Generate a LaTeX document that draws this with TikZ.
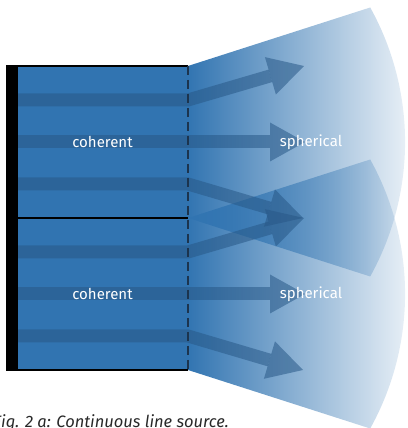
\documentclass[tikz,border=0pt]{standalone}
\usepackage{fontspec}
\setmainfont{Fira Sans}
\usetikzlibrary{calc,fadings}

\definecolor{boxblue}{RGB}{49,116,177}
\definecolor{rayblue}{RGB}{40,88,135}
\definecolor{dashnavy}{RGB}{28,52,78}
\definecolor{captiongray}{RGB}{40,40,40}

% fan opacity: opaque at the aperture, almost clear at the wave front
\tikzfading[name=fanfade, left color=transparent!0, right color=transparent!93]

\begin{document}
\begin{tikzpicture}[x=1pt,y=1pt,
  boxfill/.style={fill=boxblue},
  fan/.style={fill=boxblue, path fading=fanfade},
  shaft/.style={draw=rayblue, draw opacity=0.55, line width=13pt, line cap=butt, line join=miter},
  head/.style={fill=rayblue, fill opacity=0.55},
  edge/.style={draw=black, line width=1.8pt},
  aperture/.style={draw=dashnavy, line width=1.8pt, dash pattern=on 9pt off 5pt},
  lbl/.style={text=white, font=\fontsize{15}{18}\selectfont, inner sep=0pt},
  caption/.style={text=captiongray, font=\fontsize{16.5}{19}\selectfont\itshape, inner sep=0pt}]
\useasboundingbox (0,0) rectangle (407,428);

% two coherent sections, centred at y = 286 and y = 134
\foreach \c in {286,134}{
  \path[boxfill] (18,\c-76) rectangle (188,\c+76);
}

% spherical fans leaving each section
\foreach \c in {286,134}{
  \path[fan] (188,\c+76) -- (370.2,\c+134.5)
    arc[start angle=29.05, end angle=-29.05, radius=277]
    -- (188,\c-76) -- cycle;
}

% rays: stripe through the section, then an arrow into the fan
\foreach \c/\k in {286/1,134/2}{
  \foreach \d/\j/\tx/\ty in {42/1/304/76, 0/2/305/0, -42/3/303/-76}{
    \coordinate (s\k\j) at (18,\c+\d);
    \coordinate (k\k\j) at (188,\c+\d);
    \coordinate (t\k\j) at (\tx,\c+\ty);
    \coordinate (h\k\j) at ($(t\k\j)!35pt!(k\k\j)$);
    \draw[shaft] (s\k\j) -- (k\k\j) -- (h\k\j);
    \fill[head] (t\k\j) -- ($(h\k\j)!19.5pt!90:(t\k\j)$)
      -- ($(h\k\j)!19.5pt!-90:(t\k\j)$) -- cycle;
  }
}

% section borders and the line source itself
\draw[edge] (18,362) -- (188,362);
\draw[edge] (18,210) -- (188,210);
\draw[edge] (18,58) -- (188,58);
\fill[black] (6,56.5) rectangle (18,362.5);
\draw[aperture] (188,362) -- (188,58);

% labels
\node[lbl] (coh1) at (102.5,286) {coherent};
\node[lbl] (coh2) at (102.5,134) {coherent};
\node[lbl] (sph1) at (311,286) {spherical};
\node[lbl] (sph2) at (311,134) {spherical};

\node[caption, anchor=base west] (cap) at (1,1) {\llap{F}ig. 2 a: Continuous line source.};
\end{tikzpicture}
\end{document}
